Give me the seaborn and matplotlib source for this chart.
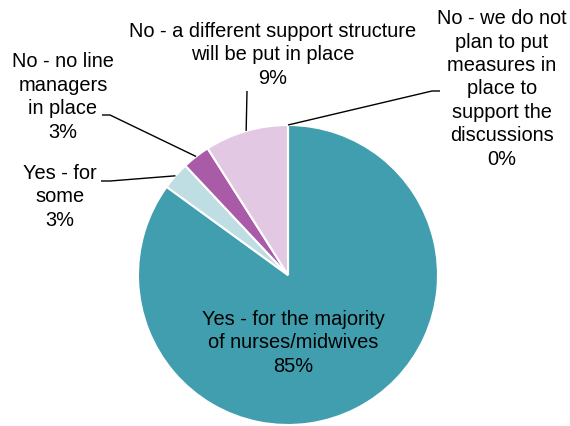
import numpy as np
import matplotlib
matplotlib.use("Agg")
import matplotlib.pyplot as plt
import seaborn as sns

# Survey responses (share of respondents, %)
categories = [
    "Yes - for the majority\nof nurses/midwives",
    "Yes - for\nsome",
    "No - no line\nmanagers\nin place",
    "No - a different support structure\nwill be put in place",
    "No - we do not\nplan to put\nmeasures in\nplace to\nsupport the\ndiscussions",
]
shares = [85, 3, 3, 9, 0]
colors = ["#409EAE", "#BFDEE3", "#A95BA8", "#E3C8E3", "#8E6FA8"]

sns.set_theme(style="white")
plt.rcParams["font.family"] = ["Liberation Sans", "DejaVu Sans"]

W, H = 570, 426
fig = plt.figure(figsize=(W / 100, H / 100), dpi=100)
ax = fig.add_axes([0, 0, 1, 1])

cx, cy, r = 288, H - 275, 150
wedges, _ = ax.pie(
    shares, colors=colors, startangle=90, counterclock=False,
    center=(cx, cy), radius=r, frame=True,
    wedgeprops=dict(edgecolor="white", linewidth=1.5),
)
ax.set_xlim(0, W)
ax.set_ylim(0, H)
ax.set_aspect("equal")
ax.axis("off")

labels = [f"{c}\n{v:.0f}%" for c, v in zip(categories, shares)]

# label centres (x, y from top) and elbow points of the leader lines
layout = [
    dict(pos=(293, 343), leader=None),
    dict(pos=(60, 197), leader=[(101, 181), (110, 181)]),
    dict(pos=(63, 97), leader=[(102, 115), (110, 115)]),
    dict(pos=(273, 55), leader=[(247, 91)]),
    dict(pos=(502, 89), leader=[(440, 91), (432, 91)]),
]

for w, lab, lay in zip(wedges, labels, layout):
    tx, ty = lay["pos"]
    ax.text(tx, H - ty, lab, ha="center", va="center", fontsize=14.4,
            color="black", linespacing=1.29)
    if lay["leader"]:
        ang = np.deg2rad((w.theta1 + w.theta2) / 2)
        ex, ey = cx + r * np.cos(ang), cy + r * np.sin(ang)
        pts = [(x, H - y) for x, y in lay["leader"]] + [(ex, ey)]
        xs, ys = zip(*pts)
        ax.plot(xs, ys, color="black", linewidth=1.0, solid_capstyle="butt")

fig.savefig("out.png", dpi=100, facecolor="white")
